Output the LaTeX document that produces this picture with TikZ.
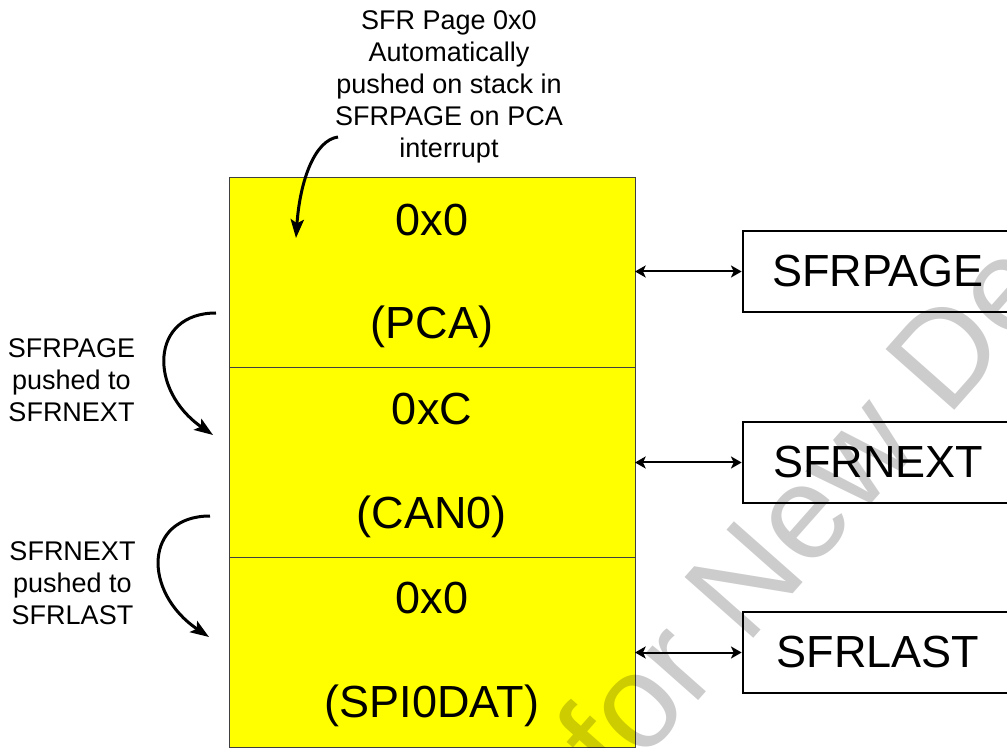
\documentclass[tikz,border=0pt]{standalone}
\usepackage{fontspec}
\setmainfont{Liberation Sans}
\usetikzlibrary{arrows.meta,positioning,calc}
\definecolor{stackyellow}{RGB}{255,255,0}

\begin{document}
\begin{tikzpicture}[
      x=0.75pt, y=-0.75pt,
      font=\fontsize{33.75}{40.5}\selectfont,
      cell/.style={draw=black!75, line width=0.75pt, fill=stackyellow,
                   minimum width=304.5pt, minimum height=142.5pt,
                   inner sep=0pt, outer sep=0pt},
      reg/.style={draw, line width=2pt, minimum width=202.5pt,
                  minimum height=60.75pt, inner sep=0pt},
      note/.style={font=\fontsize{20.25}{24}\selectfont, align=center},
      link/.style={line width=1.5pt,
                   {Stealth[length=8pt,width=9pt,inset=2pt]}-{Stealth[length=8pt,width=9pt,inset=2pt]}},
      push/.style={line width=2.25pt, -{Stealth[length=14pt,width=10pt,inset=3pt]}},
      wmark/.style={font=\fontsize{100}{110}\selectfont, text=black,
                    text opacity=0.2, rotate=48.5}
    ]
    \useasboundingbox (0,0) rectangle (1007,748);
    \node[cell] (pca) at (432,272.5) {};
    \node[cell] (can) at (432,462.5) {};
    \node[cell] (spi) at (432,652.5) {};
    \node (pcaval) at (432,220) {0x0};
    \node (pcaname) at (432,327) {(PCA)};
    \node (canval) at (432,409) {0xC};
    \node (canname) at (432,517) {(CAN0)};
    \node (spival) at (432,598) {0x0};
    \node (spiname) at (432,706) {(SPI0DAT)};
    \node[reg] (page) at (878,271.5) {SFRPAGE};
    \node[reg] (next) at (878,462.5) {SFRNEXT};
    \node[reg] (last) at (878,652.5) {SFRLAST};
    \draw[link] (page.west -| pca.east) -- (page.west);
    \draw[link] (next.west -| can.east) -- (next.west);
    \draw[link] (last.west -| spi.east) -- (last.west);
    \node[note] (auto) at (449,87) {SFR Page 0x0\\Automatically\\pushed on stack in\\SFRPAGE on PCA\\interrupt};
    \node[note] (tonext) at (71.5,380) {SFRPAGE\\pushed to\\SFRNEXT};
    \node[note] (tolast) at (72.5,583) {SFRNEXT\\pushed to\\SFRLAST};
    \coordinate (autotail) at (338,137);
    \coordinate (autotip) at (296,238);
    \coordinate (nexttail) at (216,313);
    \coordinate (nexttip) at (213,435);
    \coordinate (lasttail) at (210,516);
    \coordinate (lasttip) at (209,637);
    \draw[push] (autotail) .. controls (315,140) and (300,180) .. (autotip);
    \draw[push] (nexttail) .. controls (150,313) and (148,390) .. (nexttip);
    \draw[push] (lasttail) .. controls (144,516) and (142,592) .. (lasttip);
    \node[wmark] (stamp) at (524,845) {Not Recommended for New Designs};
  \end{tikzpicture}
\end{document}
